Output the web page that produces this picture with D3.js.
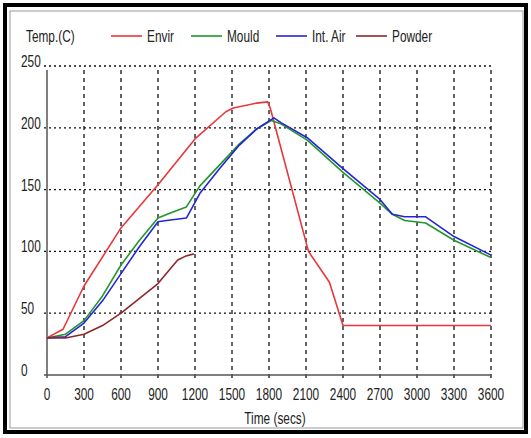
<!DOCTYPE html>
<html>
<head>
<meta charset="utf-8">
<script src="https://cdn.jsdelivr.net/npm/d3@7"></script>
<style>
  body { margin: 0; background: #fff; }
  svg { display: block; }
  text { font-family: "Liberation Sans", Arial, sans-serif; fill: #222; font-size: 16px; }
</style>
</head>
<body>
<div id="chart"></div>
<script>
// tick values
const xTicks = [0, 300, 600, 900, 1200, 1500, 1800, 2100, 2400, 2700, 3000, 3300, 3600];
const yTicks = [0, 50, 100, 150, 200, 250];

// series: [time (secs), temp (C)]
const envir = [[0,30],[130,37],[300,72],[600,119],[900,154],[1200,191],[1450,213],[1510,216],
  [1700,220],[1790,221],[1810,216],[2120,100],[2290,75],[2400,40],[3600,40]];
const mould = [[0,30],[150,33],[300,44],[450,64],[600,89],[750,109],[900,127],[1000,131],
  [1130,136],[1240,153],[1400,170],[1560,187],[1700,199],[1820,206],[1900,203],[2110,190],
  [2400,164],[2700,139],[2800,130],[2900,125],[3070,123],[3300,109],[3600,95]];
const intAir = [[0,30],[150,31],[300,42],[450,60],[600,82],[750,104],[900,124],[970,125],
  [1130,127],[1240,147],[1400,167],[1560,186],[1700,199],[1840,208],[1900,204],[2110,192],
  [2400,167],[2700,142],[2800,130],[2900,128],[3070,128],[3300,112],[3600,97]];
const powder = [[0,30],[150,30],[300,33],[450,40],[600,50],[750,62],[900,74],[1000,86],
  [1060,93],[1120,96],[1190,98]];

const seriesNames = ["Envir", "Mould", "Int. Air", "Powder"];
const seriesData = [envir, mould, intAir, powder];
const seriesColors = ["#e8363a", "#23972a", "#2424d8", "#8e2828"];

const W = 531, H = 438;
const margin = {top: 66, right: 40, bottom: 63, left: 47};
const squeeze = 0.74; // the original font is tall and narrow

const svg = d3.select("#chart").append("svg")
  .attr("width", W).attr("height", H);

// narrow text helper
function label(sel, tx, ty, str, anchor) {
  return sel.append("text")
    .attr("transform", "translate(" + tx + "," + ty + ") scale(" + squeeze + ",1)")
    .attr("text-anchor", anchor || "start")
    .text(str);
}

// frame
svg.append("rect").attr("x", 0).attr("y", 0).attr("width", W).attr("height", H).attr("fill", "#fff");
svg.append("rect").attr("x", 5).attr("y", 5).attr("width", 521).attr("height", 427)
  .attr("fill", "none").attr("stroke", "#000").attr("stroke-width", 4);
svg.append("rect").attr("x", 10).attr("y", 11).attr("width", 513).attr("height", 417)
  .attr("fill", "none").attr("stroke", "#999").attr("stroke-width", 1);

const x = d3.scaleLinear().domain([0, 3600]).range([margin.left, W - margin.right]);
const y = d3.scaleLinear().domain([0, 250]).range([H - margin.bottom, margin.top]);

// grid
const grid = svg.append("g");
grid.selectAll(".hgrid").data(yTicks.filter(d => d > 0)).join("line")
  .attr("x1", x(0) - 3).attr("x2", x(3600))
  .attr("y1", d => y(d)).attr("y2", d => y(d))
  .attr("stroke", "#111").attr("stroke-width", 1.3).attr("stroke-dasharray", "2,3");
grid.selectAll(".vgrid").data(xTicks.filter(d => d > 0)).join("line")
  .attr("x1", d => x(d)).attr("x2", d => x(d))
  .attr("y1", y(250) + 4).attr("y2", y(0) + 3)
  .attr("stroke", "#111").attr("stroke-width", 1.3).attr("stroke-dasharray", "4,4");

// axes lines
svg.append("line").attr("x1", x(0)).attr("x2", x(0)).attr("y1", y(250) + 4).attr("y2", y(0) + 3)
  .attr("stroke", "#555").attr("stroke-width", 1.5);
svg.append("line").attr("x1", x(0) - 3).attr("x2", x(3600)).attr("y1", y(0)).attr("y2", y(0))
  .attr("stroke", "#555").attr("stroke-width", 1.5);

// tick labels
yTicks.forEach(d => label(svg, 21, y(d) + 1, d));
xTicks.forEach(d => label(svg, x(d), y(0) + 25, d, "middle"));
label(svg, 275, 424, "Time (secs)", "middle");

// lines
const line = d3.line().x(d => x(d[0])).y(d => y(d[1]));
svg.selectAll(".series").data(seriesData).join("path")
  .attr("d", d => line(d))
  .attr("fill", "none")
  .attr("stroke", (d, i) => seriesColors[i])
  .attr("stroke-width", 1.6)
  .attr("stroke-linejoin", "round");

// legend
label(svg, 26, 42, "Temp.(C)");
const legendX = [111, 191, 276, 356];
seriesNames.forEach((name, i) => {
  const g = svg.append("g").attr("transform", "translate(" + legendX[i] + ",36)");
  g.append("line").attr("x1", 0).attr("x2", 31).attr("y1", 0).attr("y2", 0)
    .attr("stroke", seriesColors[i]).attr("stroke-width", 1.6);
  label(g, 36, 6, name);
});
</script>
</body>
</html>
